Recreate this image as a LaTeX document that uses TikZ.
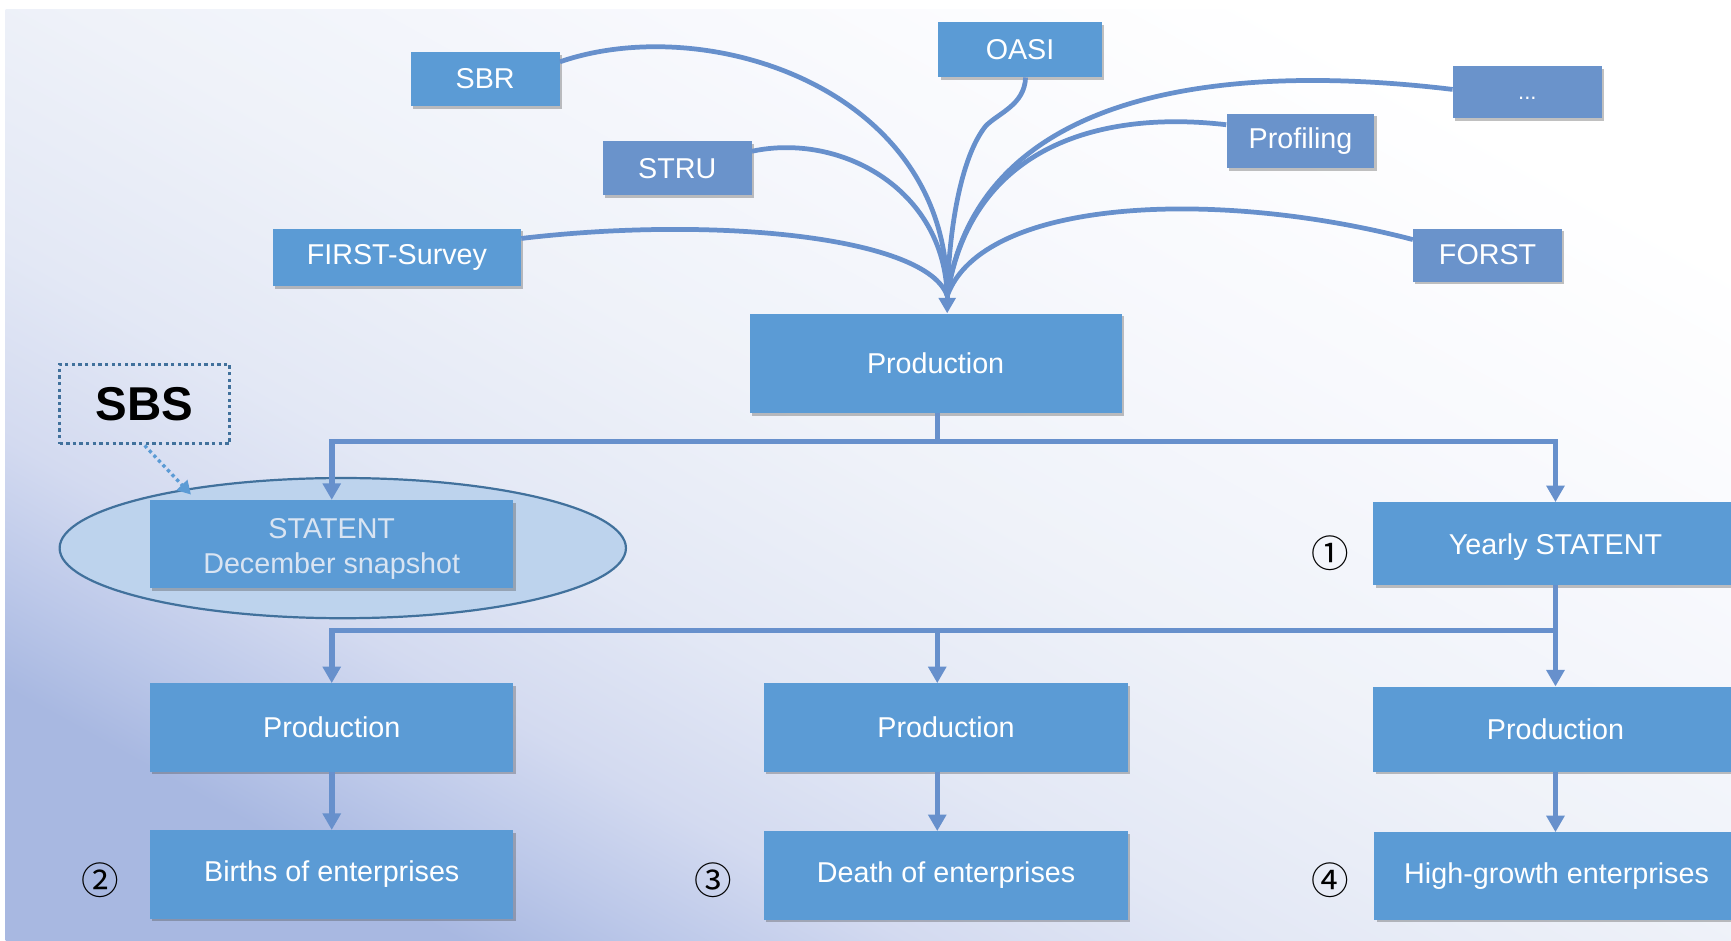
\documentclass[tikz,border=0pt]{standalone}
\usepackage{fontspec}
\setmainfont{Liberation Sans}
\newfontfamily\boxfont{Liberation Sans}
\newfontfamily\cjkfont{Noto Sans CJK SC}
\usetikzlibrary{arrows.meta,shapes.geometric,shadows,calc}
\definecolor{boxblue}{HTML}{5B9BD5}
\definecolor{mutedblue}{HTML}{6A93CB}
\definecolor{lineblue}{HTML}{6790CC}
\definecolor{ellfill}{HTML}{BDD3ED}
\definecolor{ellborder}{HTML}{41719C}
\definecolor{textlight}{HTML}{D9E4F2}
\definecolor{bgblue}{HTML}{A8B8E1}
\definecolor{bgA}{HTML}{BCC8E9}
\definecolor{bgB}{HTML}{D3DAF0}
\definecolor{bgC}{HTML}{E3E8F5}
\definecolor{bgD}{HTML}{EFF2F9}
\definecolor{bgE}{HTML}{F8F9FD}
\pgfdeclareverticalshading{bgshade}{100bp}{color(0bp)=(bgblue); color(25bp)=(bgblue); color(29bp)=(bgA); color(34bp)=(bgB); color(41bp)=(bgC); color(51bp)=(bgD); color(63bp)=(bgE); color(75bp)=(white); color(100bp)=(white)}
\tikzset{
  box/.style={rectangle, fill=boxblue, text=white, inner sep=0pt,
    font=\boxfont\fontsize{26}{32}\selectfont, align=center,
    drop shadow={shadow xshift=2pt, shadow yshift=-2.5pt, opacity=0.35, fill=black!70}},
  mbox/.style={box, fill=mutedblue},
  conn/.style={draw=lineblue, line width=5pt},
  arr/.style={conn, -{Triangle[width=16pt,length=15pt]}},
  feed/.style={draw=lineblue, line width=4.3pt},
  num/.style={font=\cjkfont\fontsize{34}{34}\selectfont, text=black, inner sep=0pt},
}
\begin{document}
\begin{tikzpicture}[x=1pt,y=-1pt]
\useasboundingbox (0,0) rectangle (1568,851.5);
\clip (0,0) rectangle (1568,851.5);
\fill[white] (0,0) rectangle (1568,851.5);
\shade[shading=bgshade, shading angle=-29] (5,9) rectangle (1568,851.5);

% top feeders
\node[box,  minimum width=135pt, minimum height=49pt] (sbr)   at (439.5,71.5) {SBR};
\node[box,  minimum width=148pt, minimum height=50pt] (oasi)  at (924,45) {OASI};
\node[mbox, minimum width=135pt, minimum height=47pt, font=\boxfont\fontsize{20}{24}\selectfont] (dots) at (1383.5,83.5) {\raisebox{-6pt}[\height][\depth]{...}};
\node[mbox, minimum width=135pt, minimum height=49pt] (stru)  at (613.5,152.5) {STRU};
\node[mbox, minimum width=134pt, minimum height=49pt] (prof)  at (1178,127.5) {Profiling};
\node[box,  minimum width=225pt, minimum height=52pt] (first) at (359.5,233) {FIRST-Survey};
\node[mbox, minimum width=135pt, minimum height=48pt] (forst) at (1347.5,231) {FORST};

\node[box, minimum width=337pt, minimum height=90pt] (prod0) at (847.5,329) {Production};

% ellipse and SBS
\node[ellipse, draw=ellborder, fill=ellfill, line width=2pt, minimum width=513pt, minimum height=127pt, inner sep=0pt] (ell) at (310.5,496.5) {};
\node[draw=ellborder, line width=3pt, dash pattern=on 3pt off 3pt, minimum width=154pt, minimum height=72pt, inner sep=0pt,
      font=\bfseries\fontsize{43}{43}\selectfont] (sbs) at (131,366) {SBS};

\node[box, minimum width=329pt, minimum height=80pt, text=textlight] (statent) at (300.5,493)
  {\raisebox{-4pt}[\height][\depth]{\begin{tabular}{@{}c@{}}STATENT\\December snapshot\end{tabular}}};
\node[box, minimum width=330pt, minimum height=75pt] (yearly) at (1409,492.5) {\raisebox{-3pt}[\height][\depth]{Yearly STATENT}};

\node[box, minimum width=329pt, minimum height=80pt] (prodL) at (300.5,659) {Production};
\node[box, minimum width=330pt, minimum height=80pt] (prodM) at (857,659) {Production};
\node[box, minimum width=330pt, minimum height=77pt] (prodR) at (1409,660.5) {Production};

\node[box, minimum width=329pt, minimum height=80pt] (births) at (300.5,792) {Births of enterprises};
\node[box, minimum width=330pt, minimum height=80pt] (death)  at (857,793) {Death of enterprises};
\node[box, minimum width=330pt, minimum height=79pt] (hg)     at (1410,793.5) {High-growth enterprises};

\node[num] (n1) at (1205,501) {①};
\node[num] (n2) at (91,797) {②};
\node[num] (n3) at (646,797) {③};
\node[num] (n4) at (1205,797) {④};

% SBS pointer
\coordinate (sbstip) at (173,448);
\draw[draw=boxblue, line width=3pt, dash pattern=on 3pt off 3pt, -{Triangle[width=13pt,length=12pt]}] (sbs.south) -- (sbstip);

% feeder curves
\coordinate (hub) at (858,268);
\draw[feed] (sbr.east |- 0,56) .. controls (640,10) and (860,80) .. (hub);
\draw[feed] (stru.east |- 0,137) .. controls (760,120) and (855,170) .. (hub);
\draw[feed] (first.east |- 0,216) .. controls (650,195) and (840,215) .. (hub);
\draw[feed] (oasi.south -| 929,0) .. controls (928,95) and (905,102) .. (893,114) .. controls (872,140) and (860,200) .. (hub);
\draw[feed] (dots.west |- 0,81) .. controls (1100,55) and (885,85) .. (hub);
\draw[feed] (prof.west |- 0,113) .. controls (1000,100) and (880,130) .. (hub);
\draw[feed] (forst.west |- 0,217) .. controls (1100,170) and (890,180) .. (hub);
\draw[conn, line width=4.3pt, -{Triangle[width=15pt,length=14pt]}] (hub) -- (hub |- prod0.north);

% tree connectors
\coordinate (j1) at (849,400);
\draw[conn] (prod0.south -| j1) -- (j1);
\draw[arr] (j1) -| (statent.north);
\draw[arr] (j1) -| (yearly.north);
\coordinate (j2) at (1409,571);
\draw[arr] (yearly.south) -- (prodR.north);
\draw[arr] (j2) -| (prodL.north);
\draw[arr] (j1 |- j2) -- (j1 |- prodM.north);
\draw[arr] (prodL.south) -- (births.north);
\draw[arr] (j1 |- prodM.south) -- (j1 |- death.north);
\draw[arr] (prodR.south) -- (prodR.south |- hg.north);
\end{tikzpicture}
\end{document}
